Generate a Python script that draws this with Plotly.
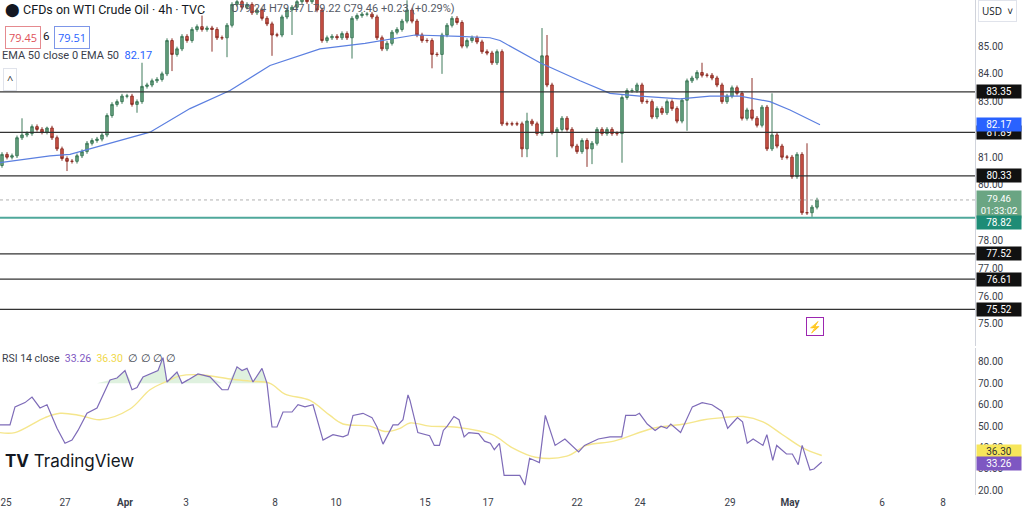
import plotly.graph_objects as go
from plotly.subplots import make_subplots

# 4h closes, in candle order (Mar 25 .. May 2)
closes = [81.1, 81.0, 81.05, 81.7, 81.8, 81.85, 82.1, 82.0, 81.9, 82.05, 81.7, 81.3, 80.95, 80.85, 80.85, 81.05,
          81.2, 81.5, 81.6, 81.65, 81.8, 82.5, 82.9, 83.0, 83.2, 83.2, 82.9, 83.0, 83.55, 83.6, 83.75, 83.8, 84.0,
          85.2, 84.7, 84.9, 85.35, 85.2,
          85.6, 85.7, 85.6, 85.65, 85.6, 85.3, 85.3, 85.75, 86.5,
          86.6, 86.4, 86.5, 86.2, 86.3, 86.0, 85.8,
          85.4, 85.4, 86.05, 86.3, 86.4, 86.6, 86.7, 86.6, 86.7, 86.3, 85.2, 85.3, 85.35, 85.3, 85.45, 85.3, 86.0,
          86.1, 86.15, 86.15, 86.05, 85.3, 84.9, 85.1,
          85.5, 85.6, 85.9, 86.3, 85.9, 85.4, 85.2, 85.2, 84.7, 84.7, 85.4, 85.75, 86.0, 85.85, 85.0, 85.2, 85.3,
          85.15, 84.8, 84.75, 84.4, 84.8, 82.2, 82.2, 82.2, 82.2, 81.3, 82.3, 82.2, 81.85, 84.65, 83.6, 81.9, 82.0,
          82.4, 82.0, 81.4, 81.2,
          81.6, 81.3, 81.5, 82.0, 81.85, 82.0, 81.85, 81.85, 83.15, 83.4, 83.4, 83.6, 83.0, 83.0, 82.45, 82.75,
          82.6, 83.0, 82.75, 82.3, 83.05, 83.75, 83.85, 84.05, 83.95, 83.95, 83.85, 83.6, 83.0, 83.2, 83.5, 83.3,
          82.4, 82.7, 82.4, 82.15, 82.8, 81.3, 81.8, 81.4, 81.0, 81.0, 80.3, 81.1, 79.0, 79.0, 79.2, 79.46]
first_open = 80.7
# notable wick ends (candle index -> price)
wick_highs = {4: 82.4, 9: 82.1, 28: 84.4, 40: 86.1, 81: 86.65, 108: 85.65, 109: 85.4, 105: 82.6,
              140: 84.4, 150: 83.85, 154: 83.3, 161: 81.5}
wick_lows = {13: 80.5, 27: 82.6, 34: 84.1, 42: 84.8, 45: 84.6, 54: 84.65, 58: 85.4, 70: 84.55, 86: 84.2,
             88: 84.0, 104: 81.0, 105: 81.0, 111: 81.0, 117: 80.65, 118: 80.75, 124: 80.8, 137: 81.95,
             156: 80.9, 162: 78.85}
wick_pad = 0.08

# EMA 50 (candle index, value)
ema_i = [-0.4, 9.6, 13.6, 19.6, 29.6, 37.6, 45.6, 53.6, 63.6, 72.6, 79.6, 82.6, 91.6, 97.6, 99.6, 107.6,
         115.6, 121.6, 127.6, 135.6, 141.6, 147.6, 153.6, 157.6, 163.6]
ema_v = [80.8, 81.05, 81.1, 81.4, 81.9, 82.75, 83.4, 84.3, 84.9, 85.1, 85.3, 85.4, 85.35, 85.3, 85.2, 84.4,
         83.75, 83.3, 83.2, 83.1, 83.2, 83.2, 83.0, 82.7, 82.17]

# RSI 14 (pixel x, value)
rsi_x = [0, 10, 15, 25, 32, 40, 47, 57, 65, 72, 78, 87, 97, 110, 117, 125, 132, 137, 143, 153, 158, 163, 167,
         177, 182, 188, 198, 210, 222, 228, 237, 242, 247, 253, 262, 267, 272, 277, 283, 292, 298, 305, 313,
         323, 333, 343, 348, 353, 363, 372, 377, 383, 393, 398, 403, 408, 410]
rsi_v = [50.6, 50.6, 59, 61, 63.6, 58.5, 60, 49, 42, 43.5, 48, 56, 58.5, 71.6, 72.5, 76, 67, 68, 73, 75, 76,
         82, 70.6, 75.3, 70, 71.6, 74.4, 73, 67, 67, 77.7, 76, 77, 70.6, 77, 70, 49.6, 49.6, 56.6, 56.6, 60, 59,
         60, 43.5, 46, 45, 46, 55, 56, 54, 49.6, 41.6, 50.6, 50.6, 53, 64.6, 62]
rsi_zx = [20, 50, 62, 75, 85, 95, 112, 125, 138, 150, 175, 190, 205, 215, 228, 240, 280, 293, 305, 330, 345,
          370, 395, 430, 445, 480, 510, 540, 550, 575, 585, 605, 625, 640, 655, 665, 690, 710, 720, 745, 770,
          795, 810, 820, 835, 848, 860, 875, 900, 910, 925, 935, 960, 975, 990, 1000, 1020, 1030, 1050]
rsi_zv = [47, 45.5, 41, 41, 48, 50, 54.5, 53, 45, 47, 46.5, 43, 42, 39, 42, 27, 27, 22.5, 35, 33, 55, 41, 44,
          38, 41, 44, 45, 45, 55, 55, 56, 51, 48, 50, 49, 51, 47, 55, 59, 61, 60, 57, 49, 51, 54, 52, 42, 44, 41,
          46, 34, 41, 37, 37, 32, 41, 29.5, 30, 33.26]
ma_x = [0, 15, 45, 60, 80, 100, 130, 150, 167, 180, 200, 230, 250, 270, 285, 310, 330, 343, 370, 385, 400, 410]
ma_v = [47, 47, 54, 56, 55, 53, 58, 67, 71, 73.5, 74, 72, 71, 70, 65, 62, 55, 51, 50, 47.5, 49, 51.5]
ma_zx = [50, 120, 210, 260, 320, 400, 450, 520, 620, 700, 750, 800, 850, 900, 950, 1000, 1050]
ma_zv = [50, 49.5, 46, 40, 35.5, 36, 41, 43, 49, 51, 53, 54, 54.5, 52, 46, 40, 36.3]

levels = [83.35, 81.89, 80.33, 77.52, 76.61, 75.52]
support = 78.82
ema_last = 82.17
last_close = 79.46
rsi_last = 33.26
ma_last = 36.30

tick_pos = [0.8, 12.6, 24.6, 36.8, 54.6, 66.8, 84.6, 97.2, 115, 127.6, 145.6, 157.6, 176, 188.2]
tick_txt = ["25", "27", "<b>Apr</b>", "3", "8", "10", "15", "17", "22", "24", "29", "<b>May</b>", "6", "8"]

opens = [first_open] + closes[:-1]
idx = list(range(len(closes)))
highs = [wick_highs.get(i, max(o, c) + wick_pad) for i, o, c in zip(idx, opens, closes)]
lows = [wick_lows.get(i, min(o, c) - wick_pad) for i, o, c in zip(idx, opens, closes)]

px2i = lambda x: (x - 2) / 5.0
rx = [px2i(x) for x in rsi_x] + [px2i(410 + z / 2.55) for z in rsi_zx]
rv = rsi_v + rsi_zv
mx = [px2i(x) for x in ma_x] + [px2i(410 + z / 2.55) for z in ma_zx]
mv = ma_v + ma_zv

fig = make_subplots(rows=2, cols=1, shared_xaxes=True)

fig.add_trace(go.Candlestick(x=idx, open=opens, high=highs, low=lows, close=closes,
                             increasing=dict(fillcolor="#6aa583", line=dict(color="#3f7a5a", width=1)),
                             decreasing=dict(fillcolor="#d5574a", line=dict(color="#8e3128", width=1)),
                             whiskerwidth=0, showlegend=False), row=1, col=1)
fig.add_trace(go.Scatter(x=ema_i, y=ema_v, mode="lines", line=dict(color="#5b7fe0", width=1.2),
                         showlegend=False), row=1, col=1)

for lv in levels:
    fig.add_hline(y=lv, line=dict(color="#333333", width=1.2), row=1, col=1)
fig.add_hline(y=support, line=dict(color="#4fa89b", width=2), row=1, col=1)
fig.add_hline(y=last_close, line=dict(color="#b0b0b0", width=1, dash="dot"), row=1, col=1)

# RSI pane
fig.add_hrect(y0=30, y1=70, fillcolor="rgba(126,87,194,0.09)", line_width=0, row=2, col=1)
for lv in [70, 50, 30]:
    fig.add_hline(y=lv, line=dict(color="#b8b8c8", width=1, dash="dash"), row=2, col=1)
fig.add_trace(go.Scatter(x=rx, y=[70] * len(rx), mode="lines", line=dict(width=0), showlegend=False,
                         hoverinfo="skip"), row=2, col=1)
fig.add_trace(go.Scatter(x=rx, y=[max(v, 70) for v in rv], mode="lines", line=dict(width=0), fill="tonexty",
                         fillcolor="rgba(76,175,80,0.18)", showlegend=False, hoverinfo="skip"), row=2, col=1)
fig.add_trace(go.Scatter(x=mx, y=mv, mode="lines", line=dict(color="#f5e68c", width=1.4), line_shape="spline",
                         showlegend=False), row=2, col=1)
fig.add_trace(go.Scatter(x=rx, y=rv, mode="lines", line=dict(color="#7e6bb8", width=1.2), showlegend=False),
              row=2, col=1)

axfont = dict(family="Roboto, sans-serif", size=10, color="#3a3e4a")
fig.update_xaxes(range=[-0.4, 194.6], showgrid=False, zeroline=False, rangeslider_visible=False,
                 tickvals=tick_pos, ticktext=tick_txt, tickfont=axfont, ticks="", automargin=False)
fig.update_xaxes(showticklabels=False, row=1, col=1)
fig.update_yaxes(side="right", showgrid=False, zeroline=False, tickfont=axfont, ticks="", automargin=False,
                 showline=True, linecolor="#d0d3db", tickformat=".2f", ticklabelposition="outside")
fig.update_yaxes(range=[74.2, 86.66], tickvals=list(range(75, 87)), domain=[0.301, 1.0], row=1, col=1)
fig.update_yaxes(range=[17.85, 86.5], tickvals=[20, 30, 40, 50, 60, 70, 80], domain=[0.0, 0.297], row=2, col=1)

ann = []
def tag(yv, text, bg, yref, fc="white", h=None, ys=0, fs=10):
    ann.append(dict(x=1.0, xref="paper", y=yv, yref=yref, text=text, showarrow=False, xanchor="left",
                    xshift=1, yshift=ys, bgcolor=bg, font=dict(family="Roboto, sans-serif", size=fs, color=fc),
                    borderpad=1, width=42, height=h, align="center"))
for lv in levels[:3]:
    tag(lv, f"{lv:.2f}", "#111111", "y")
tag(ema_last, f"{ema_last:.2f}", "#2962ff", "y")
tag(last_close, f"{last_close:.2f}<br>01:33:02", "#6aa583", "y", h=25, ys=-5, fs=9.5)
tag(support, f"{support:.2f}", "#1e8c76", "y", ys=-5)
for lv in levels[3:]:
    tag(lv, f"{lv:.2f}", "#111111", "y")
tag(ma_last, f"{ma_last:.2f}", "#f7e65a", "y2", fc="#333333", ys=4)
tag(rsi_last, f"{rsi_last:.2f}", "#7e57c2", "y2", ys=-2)

lf = dict(family="Roboto, sans-serif", size=11.5, color="#131722")
ann += [
    dict(x=0.003, y=0.999, xref="paper", yref="paper", text="⬤ CFDs on WTI Crude Oil · 4h · TVC",
         font=dict(family="Roboto, sans-serif", size=12.5, color="#131722"), showarrow=False,
         xanchor="left", yanchor="top"),
    dict(x=0.235, y=0.999, xref="paper", yref="paper",
         text="O79.24 H79.47 L79.22 C79.46 +0.23 (+0.29%)", font=dict(size=11, color="#555a66",
         family="Roboto, sans-serif"), showarrow=False, xanchor="left", yanchor="top"),
    dict(x=0.005, y=0.948, xref="paper", yref="paper", text="79.45", font=dict(size=11, color="#e0525a"),
         bordercolor="#e58a8f", borderpad=3, showarrow=False, xanchor="left", yanchor="top"),
    dict(x=0.042, y=0.945, xref="paper", yref="paper", text="6", font=lf, showarrow=False,
         xanchor="left", yanchor="top"),
    dict(x=0.055, y=0.948, xref="paper", yref="paper", text="79.51", font=dict(size=11, color="#2962ff"),
         bordercolor="#7d96e8", borderpad=3, showarrow=False, xanchor="left", yanchor="top"),
    dict(x=0.0, y=0.905, xref="paper", yref="paper",
         text="EMA 50 close 0 EMA 50  <span style='color:#2962ff'>82.17</span>",
         font=dict(family="Roboto, sans-serif", size=11, color="#3a3e4a"), showarrow=False,
         xanchor="left", yanchor="top"),
    dict(x=0.003, y=0.862, xref="paper", yref="paper", text="^", font=dict(size=11, color="#333"),
         bordercolor="#e0e3eb", borderpad=3, showarrow=False, xanchor="left", yanchor="top"),
    dict(x=0.0, y=0.292, xref="paper", yref="paper",
         text="RSI 14 close  <span style='color:#7e57c2'>33.26</span>  "
              "<span style='color:#f0d84a'>36.30</span>  ∅ ∅ ∅ ∅",
         font=dict(family="Roboto, sans-serif", size=10.5, color="#3a3e4a"), showarrow=False,
         xanchor="left", yanchor="top"),
    dict(x=0.003, y=0.045, xref="paper", yref="paper", text="<b>TV</b> TradingView",
         font=dict(family="Inter, sans-serif", size=17, color="#131722"), showarrow=False,
         xanchor="left", yanchor="bottom", bgcolor="rgba(255,255,255,0.9)"),
    dict(x=0.845, y=0.322, xref="paper", yref="paper", text="⚡", font=dict(size=11, color="#9c27b0"),
         bordercolor="#9c27b0", borderpad=1, showarrow=False),
    dict(x=1.0, y=0.999, xref="paper", yref="paper", text="USD  ˅", xanchor="left", yanchor="top", xshift=3,
         font=dict(size=10, color="#131722"), bgcolor="white", bordercolor="#e0e3eb", borderpad=3,
         showarrow=False),
]
fig.update_layout(width=1024, height=513, margin=dict(l=0, r=49, t=0, b=18), plot_bgcolor="white",
                  paper_bgcolor="white", annotations=ann, showlegend=False)
fig.write_html("out.html", config={"displayModeBar": False},
               post_script="document.body.style.margin='0';document.body.style.overflow='hidden';")
